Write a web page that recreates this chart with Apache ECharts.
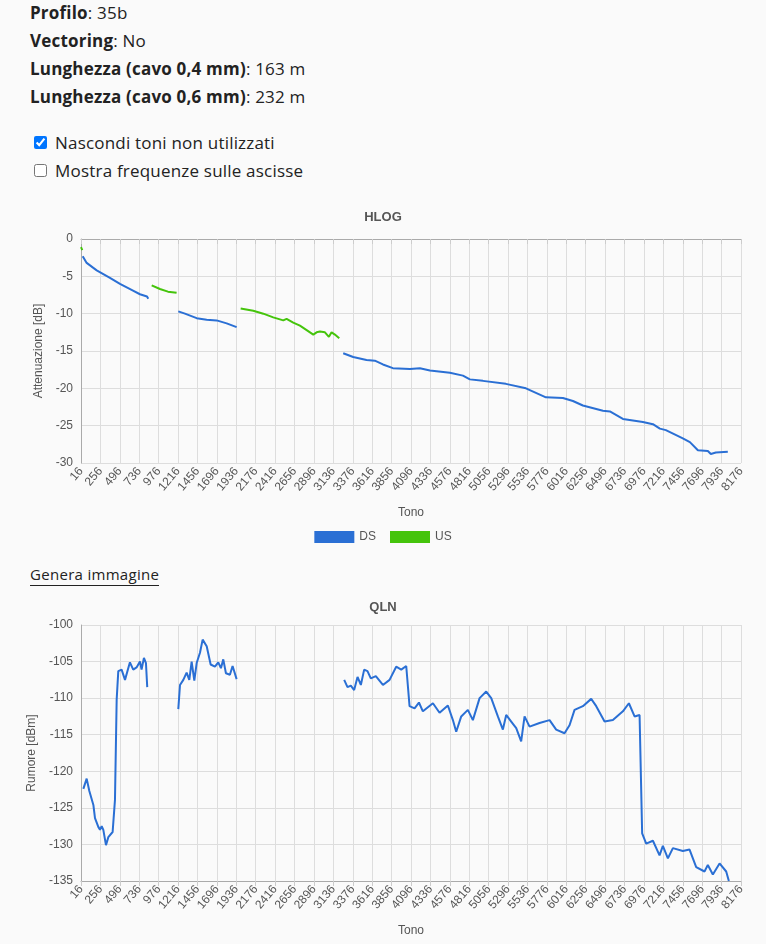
<!DOCTYPE html>
<html><head><meta charset="utf-8">
<script src="https://cdn.jsdelivr.net/npm/echarts@6/dist/echarts.min.js"></script>
<style>
body{margin:0;background:#fafafa;font-family:"Open Sans",sans-serif;color:#222;width:766px;height:944px;overflow:hidden;position:relative}
.l{position:absolute;left:30px;font-size:17px;letter-spacing:0.2px}
.cb{position:absolute;left:34px;font-size:17px;display:flex;align-items:center;letter-spacing:0.2px}
.cb input{margin:0 8px 0 0;width:13px;height:13px}
#c1{position:absolute;left:0;top:200px;width:766px;height:350px}
#c2{position:absolute;left:0;top:590px;width:766px;height:354px}
#g{position:absolute;left:30px;top:564px;font-size:15px;border-bottom:1px solid #222;padding-bottom:1px;letter-spacing:0.3px}
</style></head><body>
<div class="l" style="top:1px"><b>Profilo</b>: 35b</div>
<div class="l" style="top:29px"><b>Vectoring</b>: No</div>
<div class="l" style="top:57px"><b>Lunghezza (cavo 0,4 mm)</b>: 163 m</div>
<div class="l" style="top:85px"><b>Lunghezza (cavo 0,6 mm)</b>: 232 m</div>
<div class="cb" style="top:131px"><input type="checkbox" checked>Nascondi toni non utilizzati</div>
<div class="cb" style="top:159px"><input type="checkbox">Mostra frequenze sulle ascisse</div>
<div id="c1"></div>
<div id="g">Genera immagine</div>
<div id="c2"></div>
<script>
// HLOG segments [tone, dB]
const hlogDS1=[[37,-2.3],[86,-3.2],[210,-4.2],[374,-5.2],[498,-6.0],[659,-6.9],[745,-7.4],[832,-7.7],[848,-8.0]];
const hlogDS2=[[1219,-9.7],[1301,-10.0],[1446,-10.6],[1570,-10.8],[1693,-10.9],[1817,-11.3],[1940,-11.8]];
const hlogDS3=[[3258,-15.3],[3381,-15.8],[3546,-16.2],[3649,-16.3],[3749,-16.8],[3872,-17.3],[4083,-17.4],[4206,-17.3],[4330,-17.6],[4577,-17.9],[4738,-18.3],[4824,-18.8],[4985,-19.0],[5269,-19.4],[5517,-20.0],[5764,-21.2],[5974,-21.3],[6098,-21.7],[6221,-22.3],[6469,-23.0],[6555,-23.1],[6716,-24.1],[6963,-24.5],[7087,-24.8],[7173,-25.4],[7247,-25.6],[7457,-26.7],[7544,-27.2],[7643,-28.3],[7766,-28.4],[7803,-28.8],[7865,-28.6],[8013,-28.5]];
const hlogUS1=[[16,-1.1],[32,-1.5]];
const hlogUS2=[[890,-6.2],[992,-6.7],[1091,-7.05],[1198,-7.2]];
const hlogUS3=[[1990,-9.3],[2146,-9.6],[2270,-10.0],[2393,-10.5],[2517,-10.9],[2558,-10.7],[2640,-11.2],[2723,-11.6],[2806,-12.2],[2888,-12.8],[2929,-12.5],[2970,-12.4],[3032,-12.5],[3081,-13.1],[3114,-12.5],[3155,-12.8],[3209,-13.3]];
// QLN segments [tone, dBm]
const qln1=[[45,-122.4],[86,-121.0],[119,-122.7],[136,-122.6],[169,-124.6],[189,-126.4],[230,-127.6],[251,-128.0],[272,-127.5],[292,-128.0],[325,-130.1],[354,-129.0],[374,-129.0],[407,-128.3],[436,-123.9],[457,-110.2],[477,-106.3],[518,-106.1],[560,-107.5],[621,-105.1],[662,-106.1],[703,-105.8],[745,-105.0],[765,-106.1],[794,-104.5],[819,-105.2],[835,-108.5]];
const qln2=[[1219,-111.5],[1240,-108.2],[1281,-107.5],[1322,-106.5],[1355,-107.5],[1384,-105.0],[1417,-107.6],[1446,-105.2],[1487,-103.8],[1520,-102.0],[1570,-102.9],[1619,-105.4],[1672,-105.7],[1713,-105.1],[1746,-105.9],[1775,-104.7],[1808,-106.6],[1857,-106.8],[1890,-105.6],[1940,-107.4]];
const qln3=[[3270,-107.5],[3311,-108.5],[3352,-108.3],[3393,-108.9],[3435,-107.1],[3476,-108.2],[3517,-106.1],[3558,-106.3],[3599,-107.3],[3661,-107.0],[3749,-108.2],[3831,-107.5],[3913,-105.7],[3975,-106.1],[4037,-105.6],[4078,-111.1],[4140,-111.4],[4194,-110.6],[4243,-111.8],[4367,-110.7],[4449,-112.0],[4552,-111.0],[4614,-113.0],[4655,-114.6],[4717,-112.5],[4799,-111.6],[4861,-113.0],[4944,-110.0],[5026,-109.1],[5088,-110.0],[5170,-112.5],[5232,-114.3],[5273,-112.3],[5335,-113.2],[5397,-114.1],[5458,-115.9],[5500,-112.5],[5562,-113.9],[5685,-113.4],[5809,-113.0],[5891,-114.3],[5994,-114.8],[6056,-113.7],[6118,-111.6],[6221,-111.1],[6324,-110.1],[6386,-111.1],[6489,-113.2],[6592,-113.0],[6716,-111.8],[6790,-110.7],[6860,-112.5],[6922,-112.3],[6954,-128.5],[7004,-129.9],[7087,-129.5],[7169,-131.5],[7210,-130.2],[7272,-131.9],[7334,-130.5],[7457,-130.9],[7540,-130.7],[7622,-133.1],[7725,-133.7],[7766,-132.8],[7828,-134.1],[7911,-132.6],[7993,-133.7],[8026,-135.0]];
const toneMin=16, toneMax=8176, toneStep=240;

const DS='#2a6fd4', US='#45c40c';
const FF='"Liberation Sans",Arial,sans-serif';
function join(...segs){const o=[];segs.forEach((s,i)=>{if(i)o.push([s[0][0]-1,'-']);o.push(...s);});return o;}
function xAxis(){return {type:'value',min:toneMin,max:toneMax,interval:toneStep,name:'Tono',nameLocation:'middle',nameGap:44,
 nameTextStyle:{color:'#555',fontSize:12,fontFamily:FF},
 axisLine:{lineStyle:{color:'#aaa'}},axisTick:{show:true,length:5,lineStyle:{color:'#ccc'}},
 splitLine:{show:true,lineStyle:{color:'#ddd'}},axisLabel:{rotate:50,color:'#555',fontSize:12,fontFamily:FF,margin:6,showMaxLabel:true,showMinLabel:true,formatter:v=>String(v)}};}
function yAxis(name,min,max){return {type:'value',min:min,max:max,interval:5,name:name,nameLocation:'middle',nameGap:36,
 nameTextStyle:{color:'#555',fontSize:12,fontFamily:FF},
 axisLine:{show:true,lineStyle:{color:'#aaa'}},axisTick:{show:false},splitLine:{lineStyle:{color:'#ddd'}},axisLabel:{color:'#555',fontSize:12,fontFamily:FF,formatter:v=>String(v)}};}
const ls=c=>({type:'line',showSymbol:false,symbol:'none',lineStyle:{color:c,width:2},itemStyle:{color:c},animation:false});
const c1=echarts.init(document.getElementById('c1'));
c1.setOption({
 title:{text:'HLOG',left:'center',top:6,textStyle:{fontSize:13,fontWeight:'bold',color:'#555',fontFamily:FF}},
 legend:{bottom:2,itemWidth:40,itemHeight:12,itemGap:14,icon:'rect',textStyle:{color:'#555',fontSize:12,fontFamily:FF},data:['DS','US']},
 grid:{left:81,right:25,top:39,bottom:87},
 xAxis:xAxis(),yAxis:yAxis('Attenuazione [dB]',-30,0),
 series:[Object.assign(ls(DS),{name:'DS',data:join(hlogDS1,hlogDS2,hlogDS3)}),
         Object.assign(ls(US),{name:'US',data:join(hlogUS1,hlogUS2,hlogUS3)})]
});
const c2=echarts.init(document.getElementById('c2'));
c2.setOption({
 title:{text:'QLN',left:'center',top:6,textStyle:{fontSize:13,fontWeight:'bold',color:'#555',fontFamily:FF}},
 grid:{left:81,right:25,top:35,bottom:63},
 xAxis:xAxis(),yAxis:yAxis('Rumore [dBm]',-135,-100),
 series:[Object.assign(ls(DS),{name:'DS',data:join(qln1,qln2,qln3)})]
});
</script></body></html>
